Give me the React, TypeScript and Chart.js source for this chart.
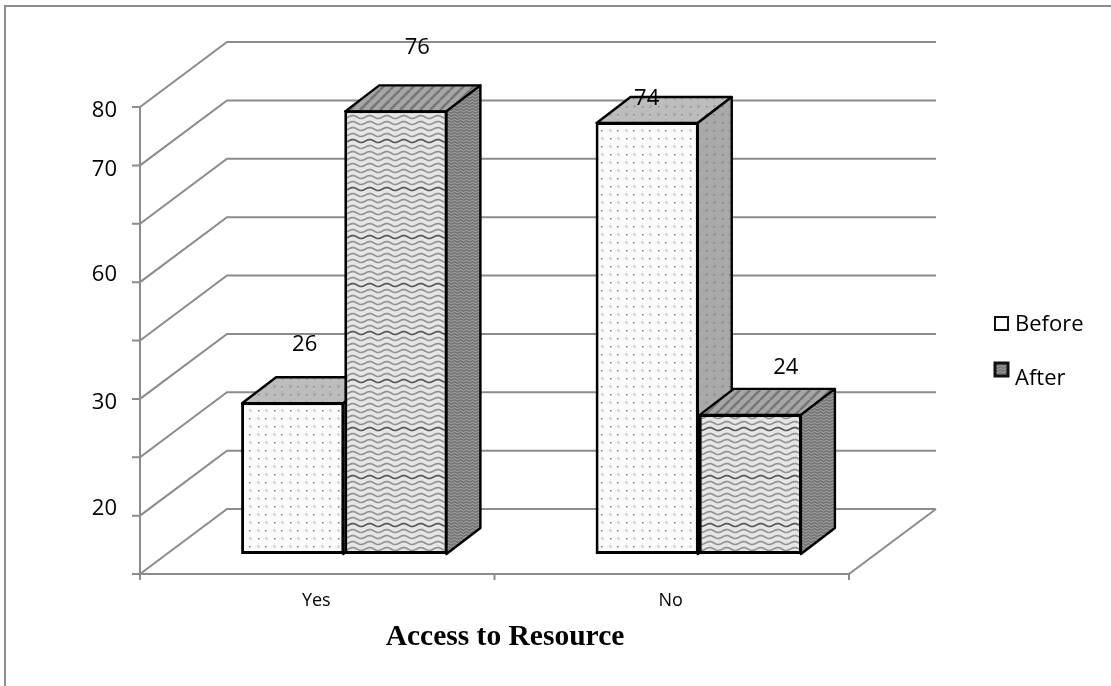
import React, { useEffect, useRef } from "react";
import { Chart, registerables } from "chart.js";

Chart.register(...registerables);

const categories = ["Yes", "No"];
const seriesNames = ["Before", "After"];
const beforeValues = [26, 74];
const afterValues = [76, 24];
const wallGridValues = [0, 10, 20, 30, 40, 50, 60, 70, 80];
const yTickLabels = ["20", "30", "60", "70", "80"];
const yTickPlaces = [7.8, 25.9, 47.9, 65.9, 76.0];
const xAxisTitle = "Access to Resource";

const UI_FONT = '"Open Sans", sans-serif';
const GREY = "#8c8c8c";

// Depth of the 3D box: the walls sit behind the bars, the axis frame in front.
const FRONT = { x: -27, y: 20 };
const BACK = { x: 60, y: -45 };
const BAR_DEPTH = { x: 34, y: -26 };

// Value label offsets from the top centre of each bar, [series][category].
const LABEL_SHIFT = [
  [[12, -57], [-0.5, -23]],
  [[21.5, -63], [35.5, -46]],
];

function tile(w: number, h: number, base: string, paint: (c: CanvasRenderingContext2D) => void) {
  const cv = document.createElement("canvas");
  cv.width = w;
  cv.height = h;
  const c = cv.getContext("2d")!;
  c.fillStyle = base;
  c.fillRect(0, 0, w, h);
  paint(c);
  return c.createPattern(cv, "repeat")!;
}

// Staggered two-tone dot grid used on the "Before" bars.
function dots(base: string, light: string, dark: string) {
  return tile(16, 16, base, (c) => {
    c.fillStyle = light;
    c.fillRect(1, 1, 3, 3);
    c.fillRect(9, 9, 3, 3);
    c.fillStyle = dark;
    c.fillRect(9, 2, 1.5, 1.5);
    c.fillRect(2, 10, 1.5, 1.5);
  });
}

// Rows of wavy lines, with one darker row in each repeat.
function waves(base: string, line: string, accent: string, gap: number, rows: number, amp: number, period: number, width: number) {
  return tile(period, gap * rows, base, (c) => {
    for (let r = 0; r < rows; r++) {
      c.strokeStyle = r === rows - 1 ? accent : line;
      c.lineWidth = width;
      c.beginPath();
      for (let x = -1; x <= period + 1; x++) {
        const y = r * gap + gap / 2 + Math.sin((x / period) * 2 * Math.PI) * amp;
        if (x === -1) c.moveTo(x, y);
        else c.lineTo(x, y);
      }
      c.stroke();
    }
  });
}

function stripes(base: string, line: string) {
  return tile(10, 10, base, (c) => {
    c.strokeStyle = line;
    c.lineWidth = 2.6;
    for (const o of [-10, 0, 10]) {
      c.beginPath();
      c.moveTo(o, 10);
      c.lineTo(o + 10, 0);
      c.stroke();
    }
  });
}

function polygon(c: CanvasRenderingContext2D, pts: number[][], fill: CanvasPattern, stroke: number) {
  c.beginPath();
  pts.forEach(([x, y], i) => (i ? c.lineTo(x, y) : c.moveTo(x, y)));
  c.closePath();
  c.fillStyle = fill;
  c.fill();
  c.lineWidth = stroke;
  c.lineJoin = "round";
  c.strokeStyle = "#000";
  c.stroke();
}

export default function App() {
  const ref = useRef<HTMLCanvasElement>(null);

  useEffect(() => {
    const faces = [
      {
        front: dots("#fbfbfb", "#dcdcdc", "#777777"),
        top: dots("#bdbdbd", "#a8a8a8", "#8c8c8c"),
        side: dots("#a9a9a9", "#989898", "#7c7c7c"),
      },
      {
        front: waves("#e6e6e6", "#939393", "#555555", 6, 8, 1.5, 17, 1.7),
        top: stripes("#a6a6a6", "#767676"),
        side: waves("#989898", "#5e5e5e", "#5e5e5e", 3, 2, 0.8, 6, 1),
      },
    ];

    const frame = {
      id: "frame",
      beforeDatasetsDraw(chart: any) {
        const { ctx: c, scales, chartArea: a } = chart;
        const y = scales.y;
        c.save();
        c.strokeStyle = GREY;
        c.lineWidth = 2;
        c.beginPath();
        // Outer picture edge: only the left and top sides are ruled.
        c.moveTo(5, 686);
        c.lineTo(5, 6);
        c.lineTo(1111, 6);
        // Wall grid with its diagonals down to the front axis.
        for (const v of wallGridValues) {
          const py = y.getPixelForValue(v);
          c.moveTo(a.left + FRONT.x - 8, py + FRONT.y);
          c.lineTo(a.left + FRONT.x, py + FRONT.y);
          c.lineTo(a.left + BACK.x, py + BACK.y);
          c.lineTo(a.right + BACK.x, py + BACK.y);
        }
        const p0 = y.getPixelForValue(0);
        const p80 = y.getPixelForValue(80);
        c.moveTo(a.left + FRONT.x, p80 + FRONT.y);
        c.lineTo(a.left + FRONT.x, p0 + FRONT.y + 6);
        c.moveTo(a.left + FRONT.x, p0 + FRONT.y);
        c.lineTo(a.right + FRONT.x, p0 + FRONT.y);
        c.lineTo(a.right + BACK.x, p0 + BACK.y);
        // Ticks under the category boundaries.
        const band = a.width / categories.length;
        for (let i = 1; i <= categories.length; i++) {
          const px = a.left + FRONT.x + band * i;
          c.moveTo(px, p0 + FRONT.y);
          c.lineTo(px, p0 + FRONT.y + 6);
        }
        c.stroke();

        // Top and side faces; the front faces are the bars themselves.
        chart.data.datasets.forEach((_: any, d: number) => {
          chart.getDatasetMeta(d).data.forEach((bar: any) => {
            const { x, y: top, base, width } = bar.getProps(["x", "y", "base", "width"], true);
            const l = x - width / 2 + 1;
            const r = x + width / 2 - 1;
            polygon(c, [[l, top + 1], [r, top + 1], [r + BAR_DEPTH.x, top + 1 + BAR_DEPTH.y], [l + BAR_DEPTH.x, top + 1 + BAR_DEPTH.y]], faces[d].top, 2.4);
            polygon(c, [[r, top + 1], [r + BAR_DEPTH.x, top + 1 + BAR_DEPTH.y], [r + BAR_DEPTH.x, base + BAR_DEPTH.y], [r, base]], faces[d].side, 2.4);
          });
        });
        c.restore();
      },
      afterDatasetsDraw(chart: any) {
        const { ctx: c } = chart;
        c.save();
        c.fillStyle = "#000";
        c.textAlign = "center";
        c.textBaseline = "middle";
        c.font = `22px ${UI_FONT}`;
        chart.data.datasets.forEach((ds: any, d: number) => {
          chart.getDatasetMeta(d).data.forEach((bar: any, i: number) => {
            const [dx, dy] = LABEL_SHIFT[d][i];
            c.fillText(String(ds.data[i]), bar.x + dx, bar.y + dy);
          });
        });

        // Axis title, centred under the front edge of the floor.
        c.font = 'bold 29.5px "Liberation Serif", serif';
        c.fillText(xAxisTitle, 505, 637);

        // Legend column.
        c.textAlign = "left";
        c.font = `22px ${UI_FONT}`;
        const rows = [
          { box: 317, text: 325, edge: 2, fill: "#ffffff" as any },
          { box: 363, text: 379, edge: 3, fill: faces[1].side as any },
        ];
        rows.forEach((row, d) => {
          c.fillStyle = row.fill;
          c.fillRect(995, row.box, 13, 13);
          c.lineWidth = row.edge;
          c.strokeStyle = "#111";
          c.strokeRect(995, row.box, 13, 13);
          c.fillStyle = "#000";
          c.fillText(seriesNames[d], 1015, row.text);
        });
        c.restore();
      },
    };

    const barStyle = { borderColor: "#000", borderWidth: 3, borderSkipped: false };
    const chart = new Chart(ref.current!, {
      type: "bar",
      data: {
        labels: categories,
        datasets: [
          { label: seriesNames[0], data: beforeValues, backgroundColor: faces[0].front, ...barStyle },
          { label: seriesNames[1], data: afterValues, backgroundColor: faces[1].front, ...barStyle },
        ],
      },
      options: {
        responsive: false,
        animation: false,
        layout: { padding: { left: 0, right: 235, top: 87, bottom: 0 } },
        datasets: { bar: { categoryPercentage: 0.582, barPercentage: 1 } },
        plugins: { legend: { display: false }, title: { display: false }, tooltip: { enabled: false } },
        scales: {
          x: {
            grid: { display: false, drawTicks: false },
            border: { display: false },
            afterFit(s: any) {
              s.height = 132;
            },
            ticks: {
              color: "#000",
              font: { family: UI_FONT, size: 18 },
              labelOffset: -28,
              padding: 36,
              maxRotation: 0,
            },
          },
          y: {
            min: 0,
            max: 80,
            grid: { display: false, drawTicks: false },
            border: { display: false },
            afterFit(s: any) {
              s.width = 167;
            },
            afterBuildTicks(s: any) {
              s.ticks = yTickPlaces.map((value) => ({ value }));
            },
            ticks: {
              color: "#000",
              font: { family: UI_FONT, size: 22 },
              padding: 50,
              autoSkip: false,
              callback: (_v: any, i: number) => yTickLabels[i],
            },
          },
        },
      },
      plugins: [frame],
    } as any);
    return () => chart.destroy();
  }, []);

  return <canvas ref={ref} width={1111} height={686} style={{ position: "absolute", left: 0, top: 0 }} />;
}
